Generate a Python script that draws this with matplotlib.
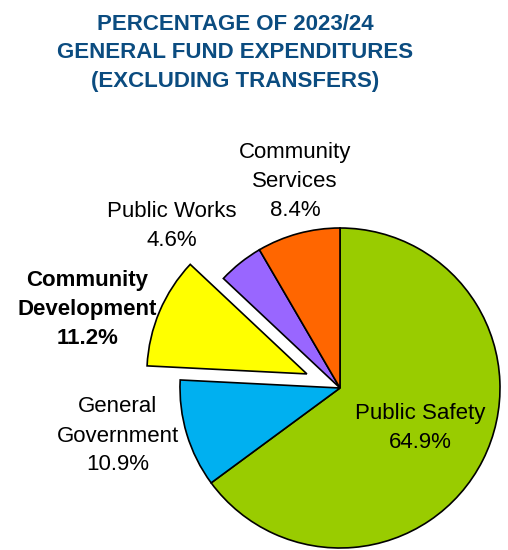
import matplotlib
matplotlib.use("Agg")
import matplotlib.pyplot as plt

# 2023/24 general fund expenditures, share of total (%)
categories = ["Public Safety", "General Government", "Community Development",
              "Public Works", "Community Services"]
shares = [64.9, 10.9, 11.2, 4.6, 8.4]
colors = ["#99CC00", "#00B0F0", "#FFFF00", "#9966FF", "#FF6600"]
explode = [0, 0, 0.225, 0, 0]

label_text = ["Public Safety\n64.9%", "General\nGovernment\n10.9%",
              "Community\nDevelopment\n11.2%", "Public Works\n4.6%",
              "Community\nServices\n8.4%"]
# label centres in pie units (radius = 1)
label_xy = [(0.50, -0.25), (-1.39, -0.30), (-1.58, 0.49), (-1.05, 1.01), (-0.28, 1.29)]
label_bold = [False, False, True, False, False]

W, H = 508, 550
fig = plt.figure(figsize=(W / 100, H / 100), dpi=100)
ax = fig.add_axes([0, 0, 1, 1])

wedges, _ = ax.pie(shares, colors=colors, explode=explode, startangle=90,
                   counterclock=False, radius=1,
                   wedgeprops=dict(edgecolor="black", linewidth=1.2))

# pie centre sits at (340, 388) px, radius 160 px
cx, cy, r = 340, 388, 160
ax.set_xlim(-cx / r, (W - cx) / r)
ax.set_ylim(-(H - cy) / r, cy / r)
ax.axis("off")

font = ["Liberation Sans", "DejaVu Sans"]
for txt, (x, y), bold in zip(label_text, label_xy, label_bold):
    ax.text(x, y, txt, ha="center", va="center", fontsize=16,
            family=font, fontweight="bold" if bold else "normal",
            linespacing=1.5, color="black")

title = "PERCENTAGE OF 2023/24\nGENERAL FUND EXPENDITURES\n(EXCLUDING TRANSFERS)"
fig.text(235 / W, 1 - 53 / H, title, ha="center", va="center", fontsize=16,
         family=font, fontweight="bold", color="#0B4C80", linespacing=1.45)

fig.savefig("out.png", dpi=100)
